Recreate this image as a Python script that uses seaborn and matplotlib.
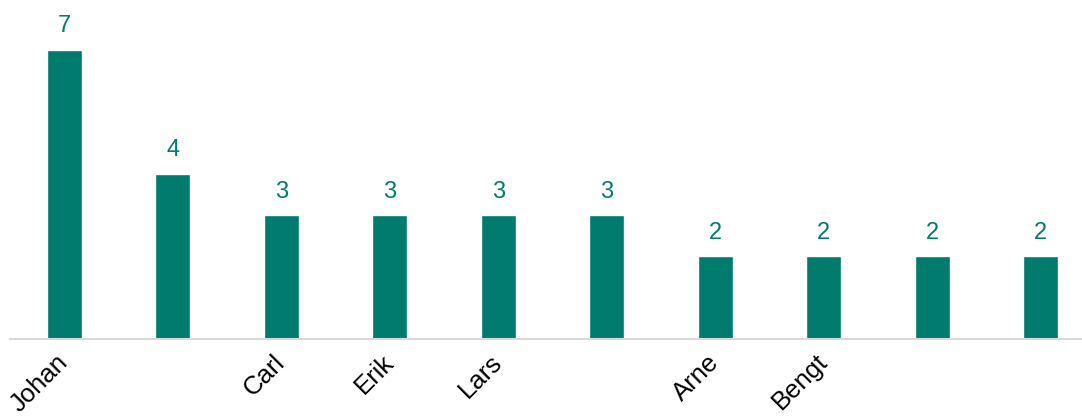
import matplotlib
matplotlib.use("Agg")
import matplotlib.pyplot as plt
import seaborn as sns
import pandas as pd

# names shown under the bars (some labels are dropped in the original)
names = ["Johan", "", "Carl", "Erik", "Lars", "", "Arne", "Bengt", "", ""]
counts = [7, 4, 3, 3, 3, 3, 2, 2, 2, 2]

teal = "#007B6D"

sns.set_theme(style="white")
plt.rcParams['font.family'] = ['Liberation Sans', 'DejaVu Sans']

df = pd.DataFrame({"pos": list(range(len(counts))), "count": counts})

fig = plt.figure(figsize=(10.82, 4.17), dpi=100)
ax = fig.add_axes([10 / 1082, 78 / 417, 1072 / 1082, 339 / 417])

sns.barplot(data=df, x="pos", y="count", color=teal, width=0.32,
            saturation=1, ax=ax)

for i, v in enumerate(counts):
    ax.text(i, v + 0.3, str(v), ha="center", va="bottom",
            color=teal, fontsize=17)

ax.set_xlim(-0.5, 9.38)
ax.set_ylim(0, 8.2)
ax.set_xticks(range(len(names)))
ax.set_xticklabels(names, rotation=45, ha="right", va="center",
                   rotation_mode="anchor", fontsize=18.5, color="black")
ax.tick_params(axis="x", length=0, pad=14)
ax.set_yticks([])
ax.set_xlabel("")
ax.set_ylabel("")
for s in ["top", "right", "left"]:
    ax.spines[s].set_visible(False)
ax.spines["bottom"].set_color("#D9D9D9")
ax.spines["bottom"].set_linewidth(1.5)

fig.savefig("out.png", dpi=100)
